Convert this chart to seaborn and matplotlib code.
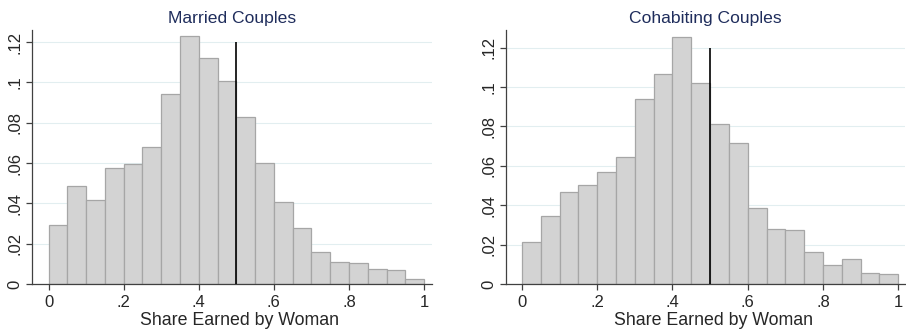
import matplotlib
import numpy as np
import pandas as pd
import seaborn as sns
import matplotlib.pyplot as plt

matplotlib.use("agg")

# Bin edges (20 bins of width .05 from 0 to 1) and bar heights (fractions)
bin_edges = np.linspace(0, 1, 21)
married_heights = [0.0294, 0.0484, 0.0417, 0.0575, 0.0597, 0.0681, 0.0942,
                   0.1230, 0.1119, 0.1005, 0.0826, 0.0602, 0.0407, 0.0278,
                   0.0160, 0.0109, 0.0104, 0.0074, 0.0069, 0.0026]
cohabiting_heights = [0.0211, 0.0345, 0.0468, 0.0505, 0.0570, 0.0644, 0.0941,
                      0.1068, 0.1256, 0.1023, 0.0815, 0.0715, 0.0385, 0.0279,
                      0.0275, 0.0162, 0.0096, 0.0127, 0.0056, 0.0051]
panel_titles = ["Married Couples", "Cohabiting Couples"]
x_ticks = [0, 0.2, 0.4, 0.6, 0.8, 1.0]
x_ticklabels = ["0", ".2", ".4", ".6", ".8", "1"]
y_ticks = [0, 0.02, 0.04, 0.06, 0.08, 0.1, 0.12]
y_ticklabels = ["0", ".02", ".04", ".06", ".08", ".1", ".12"]
cutoff = 0.5

sns.set_theme(style="white")
plt.rcParams["font.family"] = ["Liberation Sans", "DejaVu Sans"]

fig = plt.figure(figsize=(9.06, 3.34), dpi=100)
axes = [
    fig.add_axes([0.0353, 0.1497, 0.4415, 0.7605]),
    fig.add_axes([0.5582, 0.1497, 0.4407, 0.7605]),
]
ylims = [0.126, 0.129]
xlims = [(-0.044, 1.021), (-0.043, 1.018)]

centers = (bin_edges[:-1] + bin_edges[1:]) / 2
for ax, heights, title, ylim, xlim in zip(
    axes, [married_heights, cohabiting_heights], panel_titles, ylims, xlims
):
    df = pd.DataFrame({"share": centers, "frac": heights})
    sns.histplot(
        data=df,
        x="share",
        weights="frac",
        binwidth=0.05,
        binrange=(0, 1),
        stat="count",
        color="#d3d3d3",
        edgecolor="#a6a6a6",
        linewidth=0.9,
        alpha=1,
        ax=ax,
        zorder=2,
    )
    ax.vlines(cutoff, 0, 0.12, color="black", linewidth=1.2, zorder=3)

    ax.set_xlim(*xlim)
    ax.set_ylim(0, ylim)
    ax.set_xticks(x_ticks)
    ax.set_xticklabels(x_ticklabels)
    ax.set_yticks(y_ticks)
    ax.set_yticklabels(y_ticklabels, rotation=90, va="center")
    ax.grid(axis="y", color="#e2eef0", linewidth=0.8, zorder=0)
    ax.set_axisbelow(True)

    for side in ["top", "right"]:
        ax.spines[side].set_visible(False)
    for side in ["left", "bottom"]:
        ax.spines[side].set_color("#404040")
        ax.spines[side].set_linewidth(0.9)

    ax.tick_params(axis="both", which="major", direction="out", length=4,
                   width=0.9, color="#404040", labelsize=12, bottom=True,
                   left=True)
    ax.tick_params(axis="x", pad=4)
    ax.tick_params(axis="y", pad=3)
    ax.set_xlabel("Share Earned by Woman", fontsize=12.8, labelpad=1)
    ax.xaxis.label.set_x(0.52)
    ax.set_ylabel("")
    ax.set_title(title, color="#1f2d5c", fontsize=12.6, pad=5)

fig.savefig("out.png", dpi=100)
